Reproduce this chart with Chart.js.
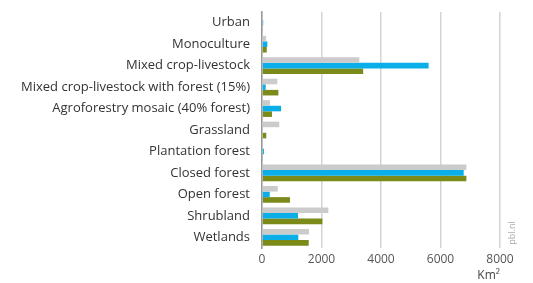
<!DOCTYPE html>
<html>
<head>
<meta charset="utf-8">
<script src="https://cdn.jsdelivr.net/npm/chart.js@4"></script>
<style>
  html, body { margin: 0; padding: 0; background: #fff; }
  #wrap { width: 533px; height: 283px; }
</style>
</head>
<body>
<div id="wrap"><canvas id="bars"></canvas></div>
<script>
const categories = ['Urban', 'Monoculture', 'Mixed crop-livestock', 'Mixed crop-livestock with forest (15%)',
    'Agroforestry mosaic (40% forest)', 'Grassland', 'Plantation forest', 'Closed forest',
    'Open forest', 'Shrubland', 'Wetlands'];
const grayValues  = [0, 140, 3270, 515, 270, 580, 0, 6870, 530, 2230, 1580];
const blueValues  = [40, 180, 5600, 125, 640, 0, 65, 6780, 260, 1210, 1220];
const greenValues = [30, 160, 3400, 550, 335, 145, 30, 6870, 940, 2030, 1570];
const xTicks = [0, 2000, 4000, 6000, 8000];

// vertical pbl.nl mark at the lower right, reading bottom to top
const watermark = {
    id: 'watermark',
    afterDraw(chart) {
        const c = chart.ctx;
        c.save();
        c.translate(512, 233);
        c.rotate(-Math.PI / 2);
        c.font = '9px "Open Sans"';
        c.fillStyle = '#aaa';
        c.textAlign = 'center';
        c.textBaseline = 'middle';
        c.fillText('pbl.nl', 0, 0);
        c.restore();
    }
};

const ctx = document.getElementById('bars').getContext('2d');
new Chart(ctx, {
    type: 'bar',
    data: {
        labels: categories,
        datasets: [
            { data: grayValues, backgroundColor: '#cbcbcb' },
            { data: blueValues, backgroundColor: '#0aaee8' },
            { data: greenValues, backgroundColor: '#7b8a18' }
        ]
    },
    options: {
        indexAxis: 'y',
        responsive: true,
        maintainAspectRatio: false,
        animation: false,
        categoryPercentage: 0.78,
        barPercentage: 1,
        layout: { padding: { left: 0, right: 33, top: 12, bottom: 0 } },
        plugins: { legend: { display: false }, tooltip: { enabled: false } },
        scales: {
            x: {
                min: 0,
                max: 8000,
                afterBuildTicks(axis) { axis.ticks = xTicks.map(v => ({ value: v })); },
                grid: { color: '#d4d4d4', lineWidth: 1.5, drawTicks: false },
                border: { display: false },
                ticks: {
                    color: '#555', font: { family: 'Open Sans', size: 12 }, padding: 4,
                    callback: v => String(v)
                },
                title: {
                    display: true, text: 'Km²', align: 'end', color: '#444',
                    font: { family: 'Open Sans', size: 12 }, padding: { top: 0, bottom: 0 }
                },
                afterFit(axis) { axis.height = 35; }
            },
            y: {
                grid: { display: false },
                border: { color: '#999', width: 1.5 },
                ticks: { color: '#333', font: { family: 'Open Sans', size: 13 }, padding: 4 },
                afterFit(axis) { axis.width = 262; }
            }
        }
    },
    plugins: [watermark]
});
</script>
</body>
</html>
